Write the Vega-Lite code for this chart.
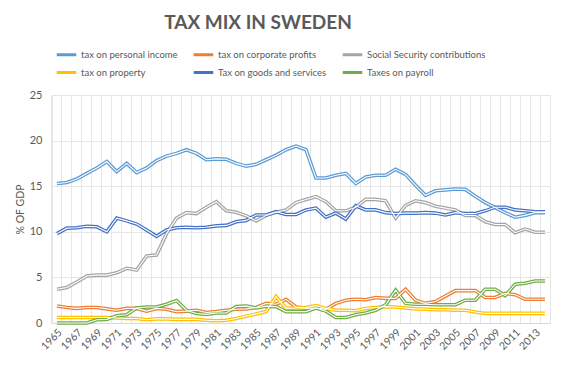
{
  "$schema": "https://vega.github.io/schema/vega-lite/v6.json",
  "autosize": "none",
  "width": 498,
  "height": 228,
  "padding": {"left": 52, "top": 95, "right": 20, "bottom": 44},
  "background": "white",
  "config": {"view": {"stroke": "#E6E6E6"}},
  "title": {"text": "TAX MIX IN SWEDEN", "font": "Lato", "fontSize": 19, "fontWeight": "bold", "color": "#595959", "anchor": "middle", "dx": -43, "offset": 10},
  "data": {"values": [
{"year":1965,"series":"tax on personal income","value":15.3},{"year":1966,"series":"tax on personal income","value":15.4},{"year":1967,"series":"tax on personal income","value":15.8},{"year":1968,"series":"tax on personal income","value":16.4},{"year":1969,"series":"tax on personal income","value":17.0},{"year":1970,"series":"tax on personal income","value":17.7},{"year":1971,"series":"tax on personal income","value":16.6},{"year":1972,"series":"tax on personal income","value":17.5},{"year":1973,"series":"tax on personal income","value":16.5},{"year":1974,"series":"tax on personal income","value":17.0},{"year":1975,"series":"tax on personal income","value":17.8},{"year":1976,"series":"tax on personal income","value":18.3},{"year":1977,"series":"tax on personal income","value":18.6},{"year":1978,"series":"tax on personal income","value":19.0},{"year":1979,"series":"tax on personal income","value":18.6},{"year":1980,"series":"tax on personal income","value":17.9},{"year":1981,"series":"tax on personal income","value":18.0},{"year":1982,"series":"tax on personal income","value":17.95},{"year":1983,"series":"tax on personal income","value":17.5},{"year":1984,"series":"tax on personal income","value":17.2},{"year":1985,"series":"tax on personal income","value":17.4},{"year":1986,"series":"tax on personal income","value":17.9},{"year":1987,"series":"tax on personal income","value":18.4},{"year":1988,"series":"tax on personal income","value":19.0},{"year":1989,"series":"tax on personal income","value":19.4},{"year":1990,"series":"tax on personal income","value":19.0},{"year":1991,"series":"tax on personal income","value":15.9},{"year":1992,"series":"tax on personal income","value":15.9},{"year":1993,"series":"tax on personal income","value":16.2},{"year":1994,"series":"tax on personal income","value":16.4},{"year":1995,"series":"tax on personal income","value":15.3},{"year":1996,"series":"tax on personal income","value":16.0},{"year":1997,"series":"tax on personal income","value":16.2},{"year":1998,"series":"tax on personal income","value":16.2},{"year":1999,"series":"tax on personal income","value":16.85},{"year":2000,"series":"tax on personal income","value":16.3},{"year":2001,"series":"tax on personal income","value":15.1},{"year":2002,"series":"tax on personal income","value":14.0},{"year":2003,"series":"tax on personal income","value":14.5},{"year":2004,"series":"tax on personal income","value":14.6},{"year":2005,"series":"tax on personal income","value":14.7},{"year":2006,"series":"tax on personal income","value":14.65},{"year":2007,"series":"tax on personal income","value":13.9},{"year":2008,"series":"tax on personal income","value":13.2},{"year":2009,"series":"tax on personal income","value":12.65},{"year":2010,"series":"tax on personal income","value":12.1},{"year":2011,"series":"tax on personal income","value":11.6},{"year":2012,"series":"tax on personal income","value":11.8},{"year":2013,"series":"tax on personal income","value":12.1},{"year":2014,"series":"tax on personal income","value":12.1},
{"year":1965,"series":"tax on corporate profits","value":1.86},{"year":1966,"series":"tax on corporate profits","value":1.7},{"year":1967,"series":"tax on corporate profits","value":1.6},{"year":1968,"series":"tax on corporate profits","value":1.7},{"year":1969,"series":"tax on corporate profits","value":1.7},{"year":1970,"series":"tax on corporate profits","value":1.55},{"year":1971,"series":"tax on corporate profits","value":1.4},{"year":1972,"series":"tax on corporate profits","value":1.6},{"year":1973,"series":"tax on corporate profits","value":1.6},{"year":1974,"series":"tax on corporate profits","value":1.3},{"year":1975,"series":"tax on corporate profits","value":1.6},{"year":1976,"series":"tax on corporate profits","value":1.5},{"year":1977,"series":"tax on corporate profits","value":1.25},{"year":1978,"series":"tax on corporate profits","value":1.3},{"year":1979,"series":"tax on corporate profits","value":1.4},{"year":1980,"series":"tax on corporate profits","value":1.15},{"year":1981,"series":"tax on corporate profits","value":1.25},{"year":1982,"series":"tax on corporate profits","value":1.4},{"year":1983,"series":"tax on corporate profits","value":1.5},{"year":1984,"series":"tax on corporate profits","value":1.55},{"year":1985,"series":"tax on corporate profits","value":1.7},{"year":1986,"series":"tax on corporate profits","value":2.15},{"year":1987,"series":"tax on corporate profits","value":2.05},{"year":1988,"series":"tax on corporate profits","value":2.6},{"year":1989,"series":"tax on corporate profits","value":1.75},{"year":1990,"series":"tax on corporate profits","value":1.6},{"year":1991,"series":"tax on corporate profits","value":1.65},{"year":1992,"series":"tax on corporate profits","value":1.5},{"year":1993,"series":"tax on corporate profits","value":2.15},{"year":1994,"series":"tax on corporate profits","value":2.5},{"year":1995,"series":"tax on corporate profits","value":2.6},{"year":1996,"series":"tax on corporate profits","value":2.55},{"year":1997,"series":"tax on corporate profits","value":2.8},{"year":1998,"series":"tax on corporate profits","value":2.7},{"year":1999,"series":"tax on corporate profits","value":2.7},{"year":2000,"series":"tax on corporate profits","value":3.7},{"year":2001,"series":"tax on corporate profits","value":2.5},{"year":2002,"series":"tax on corporate profits","value":2.15},{"year":2003,"series":"tax on corporate profits","value":2.35},{"year":2004,"series":"tax on corporate profits","value":2.95},{"year":2005,"series":"tax on corporate profits","value":3.55},{"year":2006,"series":"tax on corporate profits","value":3.55},{"year":2007,"series":"tax on corporate profits","value":3.55},{"year":2008,"series":"tax on corporate profits","value":2.8},{"year":2009,"series":"tax on corporate profits","value":2.8},{"year":2010,"series":"tax on corporate profits","value":3.25},{"year":2011,"series":"tax on corporate profits","value":3.1},{"year":2012,"series":"tax on corporate profits","value":2.6},{"year":2013,"series":"tax on corporate profits","value":2.6},{"year":2014,"series":"tax on corporate profits","value":2.6},
{"year":1965,"series":"Social Security contributions","value":3.7},{"year":1966,"series":"Social Security contributions","value":3.9},{"year":1967,"series":"Social Security contributions","value":4.5},{"year":1968,"series":"Social Security contributions","value":5.15},{"year":1969,"series":"Social Security contributions","value":5.25},{"year":1970,"series":"Social Security contributions","value":5.25},{"year":1971,"series":"Social Security contributions","value":5.5},{"year":1972,"series":"Social Security contributions","value":6.0},{"year":1973,"series":"Social Security contributions","value":5.8},{"year":1974,"series":"Social Security contributions","value":7.35},{"year":1975,"series":"Social Security contributions","value":7.45},{"year":1976,"series":"Social Security contributions","value":9.8},{"year":1977,"series":"Social Security contributions","value":11.5},{"year":1978,"series":"Social Security contributions","value":12.1},{"year":1979,"series":"Social Security contributions","value":12.0},{"year":1980,"series":"Social Security contributions","value":12.7},{"year":1981,"series":"Social Security contributions","value":13.3},{"year":1982,"series":"Social Security contributions","value":12.3},{"year":1983,"series":"Social Security contributions","value":12.15},{"year":1984,"series":"Social Security contributions","value":11.75},{"year":1985,"series":"Social Security contributions","value":11.2},{"year":1986,"series":"Social Security contributions","value":11.8},{"year":1987,"series":"Social Security contributions","value":12.15},{"year":1988,"series":"Social Security contributions","value":12.4},{"year":1989,"series":"Social Security contributions","value":13.2},{"year":1990,"series":"Social Security contributions","value":13.55},{"year":1991,"series":"Social Security contributions","value":13.85},{"year":1992,"series":"Social Security contributions","value":13.3},{"year":1993,"series":"Social Security contributions","value":12.3},{"year":1994,"series":"Social Security contributions","value":12.3},{"year":1995,"series":"Social Security contributions","value":12.7},{"year":1996,"series":"Social Security contributions","value":13.55},{"year":1997,"series":"Social Security contributions","value":13.55},{"year":1998,"series":"Social Security contributions","value":13.4},{"year":1999,"series":"Social Security contributions","value":11.5},{"year":2000,"series":"Social Security contributions","value":12.9},{"year":2001,"series":"Social Security contributions","value":13.4},{"year":2002,"series":"Social Security contributions","value":13.2},{"year":2003,"series":"Social Security contributions","value":12.8},{"year":2004,"series":"Social Security contributions","value":12.6},{"year":2005,"series":"Social Security contributions","value":12.4},{"year":2006,"series":"Social Security contributions","value":11.8},{"year":2007,"series":"Social Security contributions","value":11.8},{"year":2008,"series":"Social Security contributions","value":11.1},{"year":2009,"series":"Social Security contributions","value":10.8},{"year":2010,"series":"Social Security contributions","value":10.8},{"year":2011,"series":"Social Security contributions","value":9.9},{"year":2012,"series":"Social Security contributions","value":10.3},{"year":2013,"series":"Social Security contributions","value":9.95},{"year":2014,"series":"Social Security contributions","value":9.95},
{"year":1965,"series":"tax on property","value":0.6},{"year":1966,"series":"tax on property","value":0.6},{"year":1967,"series":"tax on property","value":0.6},{"year":1968,"series":"tax on property","value":0.6},{"year":1969,"series":"tax on property","value":0.6},{"year":1970,"series":"tax on property","value":0.6},{"year":1971,"series":"tax on property","value":0.55},{"year":1972,"series":"tax on property","value":0.5},{"year":1973,"series":"tax on property","value":0.5},{"year":1974,"series":"tax on property","value":0.35},{"year":1975,"series":"tax on property","value":0.45},{"year":1976,"series":"tax on property","value":0.45},{"year":1977,"series":"tax on property","value":0.4},{"year":1978,"series":"tax on property","value":0.4},{"year":1979,"series":"tax on property","value":0.4},{"year":1980,"series":"tax on property","value":0.3},{"year":1981,"series":"tax on property","value":0.25},{"year":1982,"series":"tax on property","value":0.3},{"year":1983,"series":"tax on property","value":0.5},{"year":1984,"series":"tax on property","value":0.75},{"year":1985,"series":"tax on property","value":1.0},{"year":1986,"series":"tax on property","value":1.25},{"year":1987,"series":"tax on property","value":2.9},{"year":1988,"series":"tax on property","value":1.6},{"year":1989,"series":"tax on property","value":1.65},{"year":1990,"series":"tax on property","value":1.7},{"year":1991,"series":"tax on property","value":1.9},{"year":1992,"series":"tax on property","value":1.6},{"year":1993,"series":"tax on property","value":1.4},{"year":1994,"series":"tax on property","value":1.4},{"year":1995,"series":"tax on property","value":1.35},{"year":1996,"series":"tax on property","value":1.6},{"year":1997,"series":"tax on property","value":1.7},{"year":1998,"series":"tax on property","value":1.8},{"year":1999,"series":"tax on property","value":1.75},{"year":2000,"series":"tax on property","value":1.65},{"year":2001,"series":"tax on property","value":1.55},{"year":2002,"series":"tax on property","value":1.5},{"year":2003,"series":"tax on property","value":1.45},{"year":2004,"series":"tax on property","value":1.45},{"year":2005,"series":"tax on property","value":1.4},{"year":2006,"series":"tax on property","value":1.4},{"year":2007,"series":"tax on property","value":1.2},{"year":2008,"series":"tax on property","value":1.05},{"year":2009,"series":"tax on property","value":1.05},{"year":2010,"series":"tax on property","value":1.05},{"year":2011,"series":"tax on property","value":1.05},{"year":2012,"series":"tax on property","value":1.05},{"year":2013,"series":"tax on property","value":1.05},{"year":2014,"series":"tax on property","value":1.05},
{"year":1965,"series":"Tax on goods and services","value":9.8},{"year":1966,"series":"Tax on goods and services","value":10.4},{"year":1967,"series":"Tax on goods and services","value":10.45},{"year":1968,"series":"Tax on goods and services","value":10.6},{"year":1969,"series":"Tax on goods and services","value":10.55},{"year":1970,"series":"Tax on goods and services","value":10.0},{"year":1971,"series":"Tax on goods and services","value":11.5},{"year":1972,"series":"Tax on goods and services","value":11.2},{"year":1973,"series":"Tax on goods and services","value":10.85},{"year":1974,"series":"Tax on goods and services","value":10.2},{"year":1975,"series":"Tax on goods and services","value":9.5},{"year":1976,"series":"Tax on goods and services","value":10.2},{"year":1977,"series":"Tax on goods and services","value":10.45},{"year":1978,"series":"Tax on goods and services","value":10.5},{"year":1979,"series":"Tax on goods and services","value":10.45},{"year":1980,"series":"Tax on goods and services","value":10.5},{"year":1981,"series":"Tax on goods and services","value":10.65},{"year":1982,"series":"Tax on goods and services","value":10.7},{"year":1983,"series":"Tax on goods and services","value":11.1},{"year":1984,"series":"Tax on goods and services","value":11.25},{"year":1985,"series":"Tax on goods and services","value":11.85},{"year":1986,"series":"Tax on goods and services","value":11.85},{"year":1987,"series":"Tax on goods and services","value":12.2},{"year":1988,"series":"Tax on goods and services","value":11.9},{"year":1989,"series":"Tax on goods and services","value":11.9},{"year":1990,"series":"Tax on goods and services","value":12.4},{"year":1991,"series":"Tax on goods and services","value":12.6},{"year":1992,"series":"Tax on goods and services","value":11.6},{"year":1993,"series":"Tax on goods and services","value":12.05},{"year":1994,"series":"Tax on goods and services","value":11.4},{"year":1995,"series":"Tax on goods and services","value":12.85},{"year":1996,"series":"Tax on goods and services","value":12.4},{"year":1997,"series":"Tax on goods and services","value":12.4},{"year":1998,"series":"Tax on goods and services","value":12.1},{"year":1999,"series":"Tax on goods and services","value":12.0},{"year":2000,"series":"Tax on goods and services","value":12.05},{"year":2001,"series":"Tax on goods and services","value":12.05},{"year":2002,"series":"Tax on goods and services","value":12.1},{"year":2003,"series":"Tax on goods and services","value":12.05},{"year":2004,"series":"Tax on goods and services","value":11.85},{"year":2005,"series":"Tax on goods and services","value":12.1},{"year":2006,"series":"Tax on goods and services","value":12.0},{"year":2007,"series":"Tax on goods and services","value":12.0},{"year":2008,"series":"Tax on goods and services","value":12.3},{"year":2009,"series":"Tax on goods and services","value":12.7},{"year":2010,"series":"Tax on goods and services","value":12.7},{"year":2011,"series":"Tax on goods and services","value":12.4},{"year":2012,"series":"Tax on goods and services","value":12.3},{"year":2013,"series":"Tax on goods and services","value":12.2},{"year":2014,"series":"Tax on goods and services","value":12.2},
{"year":1965,"series":"Taxes on payroll","value":0},{"year":1966,"series":"Taxes on payroll","value":0},{"year":1967,"series":"Taxes on payroll","value":0},{"year":1968,"series":"Taxes on payroll","value":0},{"year":1969,"series":"Taxes on payroll","value":0.35},{"year":1970,"series":"Taxes on payroll","value":0.4},{"year":1971,"series":"Taxes on payroll","value":0.8},{"year":1972,"series":"Taxes on payroll","value":0.9},{"year":1973,"series":"Taxes on payroll","value":1.65},{"year":1974,"series":"Taxes on payroll","value":1.75},{"year":1975,"series":"Taxes on payroll","value":1.75},{"year":1976,"series":"Taxes on payroll","value":2.05},{"year":1977,"series":"Taxes on payroll","value":2.45},{"year":1978,"series":"Taxes on payroll","value":1.4},{"year":1979,"series":"Taxes on payroll","value":1.05},{"year":1980,"series":"Taxes on payroll","value":0.95},{"year":1981,"series":"Taxes on payroll","value":1.1},{"year":1982,"series":"Taxes on payroll","value":1.1},{"year":1983,"series":"Taxes on payroll","value":1.8},{"year":1984,"series":"Taxes on payroll","value":1.85},{"year":1985,"series":"Taxes on payroll","value":1.65},{"year":1986,"series":"Taxes on payroll","value":1.85},{"year":1987,"series":"Taxes on payroll","value":1.8},{"year":1988,"series":"Taxes on payroll","value":1.25},{"year":1989,"series":"Taxes on payroll","value":1.25},{"year":1990,"series":"Taxes on payroll","value":1.25},{"year":1991,"series":"Taxes on payroll","value":1.65},{"year":1992,"series":"Taxes on payroll","value":1.3},{"year":1993,"series":"Taxes on payroll","value":0.6},{"year":1994,"series":"Taxes on payroll","value":0.6},{"year":1995,"series":"Taxes on payroll","value":0.9},{"year":1996,"series":"Taxes on payroll","value":1.1},{"year":1997,"series":"Taxes on payroll","value":1.4},{"year":1998,"series":"Taxes on payroll","value":2.0},{"year":1999,"series":"Taxes on payroll","value":3.6},{"year":2000,"series":"Taxes on payroll","value":2.15},{"year":2001,"series":"Taxes on payroll","value":2.05},{"year":2002,"series":"Taxes on payroll","value":2.05},{"year":2003,"series":"Taxes on payroll","value":2.0},{"year":2004,"series":"Taxes on payroll","value":2.0},{"year":2005,"series":"Taxes on payroll","value":2.0},{"year":2006,"series":"Taxes on payroll","value":2.5},{"year":2007,"series":"Taxes on payroll","value":2.5},{"year":2008,"series":"Taxes on payroll","value":3.7},{"year":2009,"series":"Taxes on payroll","value":3.7},{"year":2010,"series":"Taxes on payroll","value":3.0},{"year":2011,"series":"Taxes on payroll","value":4.25},{"year":2012,"series":"Taxes on payroll","value":4.35},{"year":2013,"series":"Taxes on payroll","value":4.6},{"year":2014,"series":"Taxes on payroll","value":4.6}
  ]},
  "encoding": {
    "x": {"field": "year", "type": "ordinal", "bandPosition": 0.5,
      "scale": {"type": "band", "paddingInner": 0, "paddingOuter": 0},
      "axis": {"title": null, "bandPosition": 0, "grid": true, "gridColor": "#E6E6E6", "ticks": false, "labelAngle": -45, "labelOverlap": false,
        "labelExpr": "datum.value % 2 == 1 ? datum.label : ''", "labelFont": "Lato", "labelFontSize": 10.5, "labelColor": "#595959", "labelDx": 5, "labelPadding": 4, "domainColor": "#D9D9D9"}},
    "y": {"field": "value", "type": "quantitative", "scale": {"domain": [0, 25]},
      "axis": {"values": [0, 5, 10, 15, 20, 25], "title": "% OF GDP", "titleFont": "Lato", "titleFontSize": 10.5, "titleFontWeight": "normal", "titleColor": "#595959", "titlePadding": 4,
        "labelFont": "Lato", "labelFontSize": 11, "labelColor": "#595959", "labelPadding": 10, "domain": false, "ticks": false, "gridColor": "#E6E6E6"}}
  },
  "layer": [
    {"mark": {"type": "line", "strokeWidth": 3.6},
     "encoding": {"color": {"field": "series", "type": "nominal",
        "scale": {"domain": ["tax on personal income", "tax on corporate profits", "Social Security contributions", "tax on property", "Tax on goods and services", "Taxes on payroll"],
                  "range": ["#5B9BD5", "#ED7D31", "#A5A5A5", "#FFC000", "#4472C4", "#70AD47"]},
        "legend": {"orient": "none", "legendX": 3, "legendY": -52, "direction": "horizontal", "columns": 3, "gridAlign": "each", "title": null,
          "symbolType": "stroke", "symbolSize": 380, "symbolStrokeWidth": 3, "labelFont": "Lato", "labelFontSize": 9.5, "labelColor": "#595959",
          "columnPadding": 9, "rowPadding": 0, "labelOffset": 3}}}},
    {"mark": {"type": "line", "strokeWidth": 1.1, "color": "white"},
     "encoding": {"detail": {"field": "series", "type": "nominal"}}}
  ]
}
